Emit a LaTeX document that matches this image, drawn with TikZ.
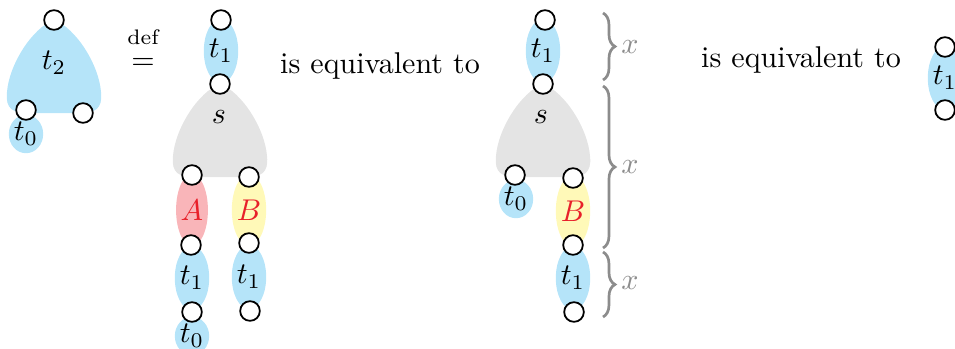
\documentclass[tikz,border=0pt]{standalone}
\usepackage{amsmath,amssymb}
\usepackage{tikz}
\usetikzlibrary{positioning}
\usetikzlibrary{shapes.geometric}
\usetikzlibrary{decorations.pathreplacing}
\usepackage{xcolor}
\definecolor{leafblue}{RGB}{181,228,249}
\definecolor{treegray}{RGB}{228,228,228}
\definecolor{leafred}{RGB}{249,181,185}
\definecolor{leafyellow}{RGB}{255,249,184}
\definecolor{labelred}{RGB}{232,32,42}
\definecolor{bracegray}{RGB}{140,140,140}

\begin{document}
\begin{tikzpicture}[
    x=0.0117cm, y=-0.0117cm,
    port/.style={circle, draw, fill=white, line width=0.6pt, minimum size=0.23cm, inner sep=0pt},
    leaf/.style={ellipse, fill=leafblue, minimum width=0.36cm, minimum height=0.75cm, inner sep=0pt},
    stub/.style={leaf, minimum height=0.45cm, minimum width=0.35cm},
    tri/.pic={
        \fill[pic actions] (0,0) .. controls (-22,8) and (-45,45) .. (-47,72)
            .. controls (-49,90) and (-40,93) .. (-25,93) -- (25,93)
            .. controls (40,93) and (49,90) .. (47,72)
            .. controls (45,45) and (22,8) .. (0,0) -- cycle;
    },
    brc/.style={decorate, decoration={brace, amplitude=0.14cm}, draw=bracegray, line width=0.9pt},
    len/.style={text=bracegray}
]
    \clip (0,0) rectangle (955,349);

    % Left tree t2 with t0 below
    \pic[fill=leafblue] at (54,20) {tri};
    \node (t2) at (54,63) {$t_2$};
    \node[stub] (t0a) at (26,134) {$t_0$};
    \node[port] (p1) at (54,20) {};
    \node[port] (p2) at (26,110) {};
    \node[port] (p3) at (83,113) {};

    % Definition sign
    \node[font=\scriptsize, inner sep=1pt] (def) at (143,37) {def};
    \node[inner sep=1pt] (eq) at (143,64) {$=$};

    % Expanded tree
    \node[leaf] (t1a) at (221,51) {$t_1$};
    \pic[fill=treegray] at (220,84) {tri};
    \node (sa) at (219,117) {$s$};
    \node[leaf, fill=leafred, minimum height=0.84cm] (A) at (192,210) {\color{labelred}$A$};
    \node[leaf, fill=leafyellow, minimum height=0.84cm] (Ba) at (249,210) {\color{labelred}$B$};
    \node[leaf] (t1b) at (192,278) {$t_1$};
    \node[leaf] (t1c) at (249,277) {$t_1$};
    \node[stub] (t0b) at (192,336) {$t_0$};
    \node[port] (q1) at (221,20) {};
    \node[port] (q2) at (220,84) {};
    \node[port] (q3) at (192,175) {};
    \node[port] (q4) at (249,177) {};
    \node[port] (q5) at (191,245) {};
    \node[port] (q6) at (249,243) {};
    \node[port] (q7) at (192,312) {};
    \node[port] (q8) at (250,311) {};

    \node (eqv1) at (380,66) {is equivalent to};

    % Rearranged tree
    \node[leaf] (t1d) at (543,51) {$t_1$};
    \pic[fill=treegray] at (543,84) {tri};
    \node (sb) at (541,117) {$s$};
    \node[stub, minimum width=0.34cm] (t0c) at (516,199) {$t_0$};
    \node[leaf, fill=leafyellow, minimum height=0.84cm] (Bb) at (573,211) {\color{labelred}$B$};
    \node[leaf] (t1e) at (573,278) {$t_1$};
    \node[port] (r1) at (545,20) {};
    \node[port] (r2) at (543,84) {};
    \node[port] (r3) at (515,175) {};
    \node[port] (r4) at (573,178) {};
    \node[port] (r5) at (573,245) {};
    \node[port] (r6) at (574,312) {};

    % Braces
    \coordinate (b0) at (603,13);
    \coordinate (b1) at (603,80);
    \coordinate (b2) at (603,86);
    \coordinate (b3) at (603,248);
    \coordinate (b4) at (603,252);
    \coordinate (b5) at (603,317);
    \draw[brc] (b0) -- (b1);
    \draw[brc] (b2) -- (b3);
    \draw[brc] (b4) -- (b5);
    \node[len] (x1) at (630,47) {$x$};
    \node[len] (x2) at (630,167) {$x$};
    \node[len] (x3) at (630,283) {$x$};

    \node (eqv2) at (801,60) {is equivalent to};

    % Single t1
    \node[leaf] (t1f) at (945,78) {$t_1$};
    \node[port] (s1) at (945,47) {};
    \node[port] (s2) at (945,110) {};
\end{tikzpicture}
\end{document}
